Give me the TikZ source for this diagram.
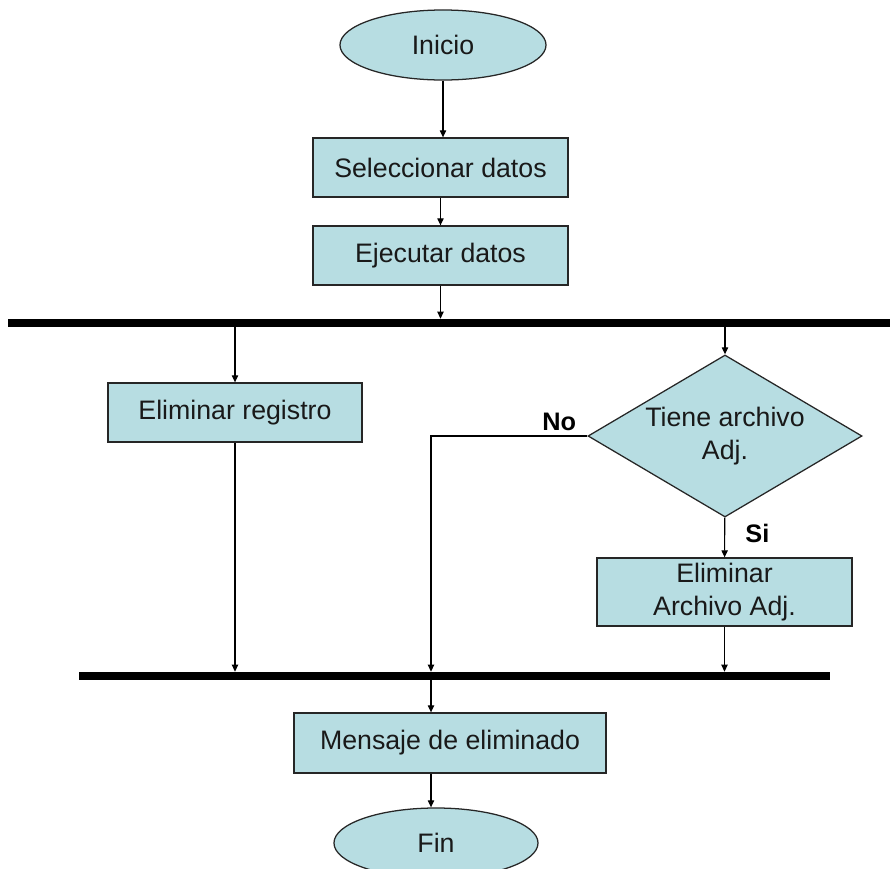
\documentclass[tikz,border=0pt]{standalone}
\usepackage{fontspec}
\setmainfont{Liberation Sans}
\usepackage{tikz}
\usetikzlibrary{arrows.meta,shapes.geometric,positioning,calc}
\definecolor{cajaazul}{RGB}{183,221,226}

\begin{document}
\begin{tikzpicture}[x=0.025cm,y=-0.025cm,>={Triangle[length=5pt,width=4.5pt]},
		txt/.style={font=\fontsize{19}{23}\selectfont,text=black!90},
		caja/.style={txt,draw=black!85,fill=cajaazul,line width=0.9pt,minimum width=6.375cm,minimum height=1.475cm,inner sep=0pt,align=center},
		terminal/.style={txt,ellipse,draw=black!85,fill=cajaazul,line width=0.9pt,minimum width=5.15cm,minimum height=1.75cm,inner sep=0pt},
		decision/.style={txt,diamond,shape aspect=1.69,draw=black!85,fill=cajaazul,line width=0.9pt,minimum width=6.85cm,minimum height=4.05cm,inner sep=0pt,align=center},
		barra/.style={fill=black,inner sep=0pt,minimum height=0.2cm},
		etiq/.style={font=\bfseries\fontsize{18}{20}\selectfont},
		flecha/.style={->,line width=0.8pt}]
	\clip (0,0) rectangle (890,869);
	
	\node[terminal] (inicio) at (443,45) {Inicio};
	\node[caja] (selec) at (440.5,167.5) {Seleccionar datos};
	\node[caja] (ejec) at (440.5,255.5) {Ejecutar datos};
	\node[barra,minimum width=22.05cm] (barA) at (449,323) {};
	
	\node[caja,minimum width=6.35cm] (elim) at (235,412.5) {Eliminar registro};
	\node[decision] (dec) at (725,436) {Tiene archivo\\Adj.};
	\node[caja,minimum height=1.7cm] (elimadj) at (724.5,592) {Eliminar\\Archivo Adj.};
	\node[barra,minimum width=18.775cm] (barB) at (454.5,676) {};
	
	\node[caja,minimum width=7.8cm,minimum height=1.5cm] (msg) at (450,743) {Mensaje de eliminado};
	\node[terminal,minimum width=5.1cm] (fin) at (436,843) {Fin};
	\coordinate (eje) at (431,0);
	
	\draw[flecha] (inicio) -- (inicio |- selec.north);
	\draw[flecha] (selec) -- (ejec);
	\draw[flecha] (ejec) -- (ejec.south |- barA.north);
	\draw[flecha] (elim.north |- barA.south) -- (elim);
	\draw[flecha] (dec.north |- barA.south) -- (dec);
	\draw[flecha] (dec.west) -| node[etiq,above,pos=0.09]{No} (eje |- barB.north);
	\draw[flecha] (dec) -- node[etiq,right=11pt,pos=0.4]{Si} (elimadj);
	\draw[flecha] (elim) -- (elim |- barB.north);
	\draw[flecha] (elimadj) -- (elimadj |- barB.north);
	\draw[flecha] (eje |- barB.south) -- (eje |- msg.north);
	\draw[flecha] (eje |- msg.south) -- (eje |- fin.north);
\end{tikzpicture}
\end{document}
